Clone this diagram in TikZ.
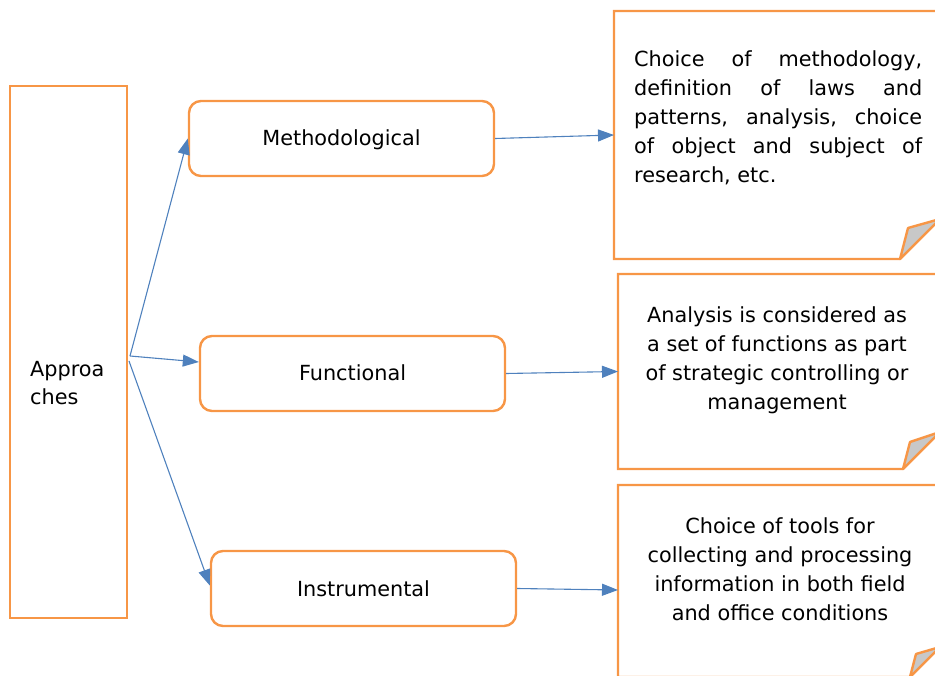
\documentclass[tikz,border=0pt]{standalone}
\usepackage{fontspec}
\setmainfont{DejaVu Sans}
\usetikzlibrary{arrows.meta,calc}
\definecolor{orng}{HTML}{F79646}
\definecolor{blu}{HTML}{4F81BD}
\definecolor{flapgray}{HTML}{C8C8C8}
\begin{document}
\begin{tikzpicture}[x=1pt,y=-1pt,
  every node/.style={font=\fontsize{20.8}{29}\selectfont, inner sep=0pt},
  roundbox/.style={draw=orng, line width=2.4pt, rounded corners=12pt,
    minimum width=305pt, minimum height=75pt, text height=15pt, text depth=0pt},
  outline/.style={draw=orng, line width=2.4pt},
  notebox/.style={inner sep=0pt, outer sep=0pt},
  conn/.style={draw=blu, line width=1.1pt, -{Triangle[length=16pt,width=12pt]}}]
\useasboundingbox (0,0) rectangle (935,676);
\clip (0,0) rectangle (935,676);

% left box
\node[outline, minimum width=117pt, minimum height=532pt] (app) at (68.5,352) {};
\node[anchor=north west, align=left, font=\fontsize{20.8}{28}\selectfont] (applbl) at (30,361.5) {Approa\\ches};

% middle boxes
\node[roundbox] (meth) at (341.5,138.5) {Methodological};
\node[roundbox] (func) at (352.5,373.5) {Functional};
\node[roundbox] (instr) at (363.5,588.5) {Instrumental};

% notes
\node[notebox, minimum width=326pt, minimum height=248pt] (n1) at (777,135) {};
\node[notebox, minimum width=322pt, minimum height=195pt] (n2) at (779,371.5) {};
\node[notebox, minimum width=322pt, minimum height=192pt] (n3) at (779,581) {};

\draw[outline, fill=white] (n1.north west) -- (n1.north east) -- ($(n1.south east)+(0,-40)$)
  -- ($(n1.south east)+(-40,0)$) -- (n1.south west) -- cycle;
\draw[outline, fill=flapgray, line join=round] ($(n1.south east)+(-40,0)$)
  -- ($(n1.south east)+(-32,-31)$) -- ($(n1.south east)+(0,-40)$) -- cycle;

\draw[outline, fill=white] (n2.north west) -- (n2.north east) -- ($(n2.south east)+(0,-37)$)
  -- ($(n2.south east)+(-37,0)$) -- (n2.south west) -- cycle;
\draw[outline, fill=flapgray, line join=round] ($(n2.south east)+(-37,0)$)
  -- ($(n2.south east)+(-30,-27)$) -- ($(n2.south east)+(0,-37)$) -- cycle;

\draw[outline, fill=white] (n3.north west) -- (n3.north east) -- ($(n3.south east)+(0,-30)$)
  -- ($(n3.south east)+(-30,0)$) -- (n3.south west) -- cycle;
\draw[outline, fill=flapgray, line join=round] ($(n3.south east)+(-30,0)$)
  -- ($(n3.south east)+(-24,-23)$) -- ($(n3.south east)+(0,-30)$) -- cycle;

% note texts
\node[anchor=north west, align=left] (t1) at (634,50)
  {\makebox[288pt][s]{Choice of methodology,}\\
   \makebox[288pt][s]{definition of laws and}\\
   \makebox[288pt][s]{patterns, analysis, choice}\\
   \makebox[288pt][s]{of object and subject of}\\
   research, etc.};
\node[anchor=north, align=center] (t2) at (777,306.5)
  {Analysis is considered as\\a set of functions as part\\of strategic controlling or\\management};
\node[anchor=north, align=center] (t3) at (780,517.5)
  {Choice of tools for\\collecting and processing\\information in both field\\and office conditions};

% connectors
\coordinate (s1) at (130,356);
\coordinate (s2) at (129,361);
\draw[conn] (s1) -- (meth.west);
\draw[conn] (s1) -- ([yshift=11.5pt]func.west);
\draw[conn] (s2) -- ([yshift=3pt]instr.west);
\draw[conn] (meth.east) -- (n1.west);
\draw[conn] (func.east) -- (n2.west);
\draw[conn] (instr.east) -- ([yshift=-9pt]n3.west);
\end{tikzpicture}
\end{document}
